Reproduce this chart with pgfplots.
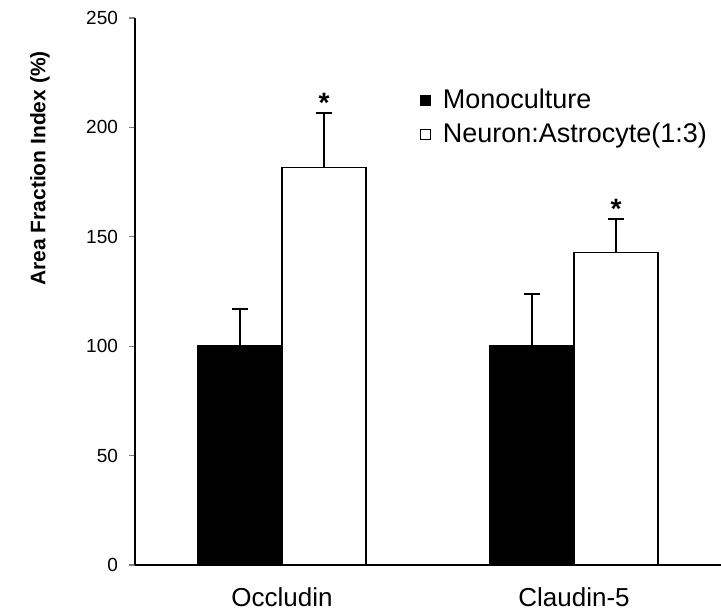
\documentclass[border=0pt]{standalone}
\usepackage{fontspec}
\setmainfont{Liberation Sans}
\usepackage{pgfplots}
\pgfplotsset{compat=1.18}
\begin{document}
\begin{tikzpicture}
\begin{axis}[
  name=ax,
  scale only axis,
  width=293pt, height=273.5pt,
  xmin=-0.503, xmax=1.503,
  ymin=0, ymax=250,
  axis x line=bottom, axis y line=left,
  axis line style={-, line width=0.6pt},
  ytick={0,50,100,150,200,250},
  xtick={0,1}, xticklabels={Occludin,Claudin-5},
  x tick style={draw=none},
  y tick style={line width=0.6pt},
  tick align=outside,
  major tick length=3pt,
  /pgf/number format/assume math mode=true,
  yticklabel style={font=\fontsize{9.5}{11}\selectfont, xshift=-2pt},
  xticklabel style={font=\fontsize{13}{15}\selectfont, yshift=-5pt},
  ylabel={\textbf{Area Fraction Index (\%)}},
  ylabel style={font=\fontsize{10.5}{12}\selectfont, at={(axis description cs:-0.162,0.725)}, anchor=center},
  bar width=0.288,
  legend style={draw=none, fill=none, at={(axis description cs:0.476,0.885)}, anchor=north west,
    font=\fontsize{13.5}{16}\selectfont, row sep=1.5pt, legend cell align=left},
  legend image code/.code={\draw[#1, line width=0.5pt] (0pt,-2.5pt) rectangle (5pt,2.5pt); \path[draw=none, fill=none] (0pt,0pt) -- (9pt,0pt);},
]
\addplot[ybar, bar shift=0pt, fill=black, draw=black, line width=0.8pt,
  error bars/.cd, y dir=plus, y explicit,
  error bar style={line width=1pt},
  error mark options={rotate=90, mark size=4pt, line width=1pt}]
  coordinates {(-0.144,100) +- (0,16.9) (0.856,100) +- (0,23.7)};
\addlegendentry{Monoculture}
\addplot[ybar, bar shift=0pt, fill=white, draw=black, line width=0.8pt,
  error bars/.cd, y dir=plus, y explicit,
  error bar style={line width=1pt},
  error mark options={rotate=90, mark size=4pt, line width=1pt}]
  coordinates {(0.144,181.7) +- (0,24.7) (1.144,142.9) +- (0,15.1)};
\addlegendentry{Neuron:Astrocyte(1:3)}
\addplot[draw=none, forget plot, nodes near coords={\fontsize{14}{14}\selectfont\textbf{*}},
  nodes near coords style={anchor=south, inner sep=1pt, yshift=-1pt}]
  coordinates {(0.144,206.4) (1.144,158)};
\end{axis}
\pgfresetboundingbox
\path[use as bounding box] ([xshift=-67.5pt, yshift=-24pt]ax.south west) rectangle ([yshift=9pt]ax.north east);
\end{tikzpicture}
\end{document}
